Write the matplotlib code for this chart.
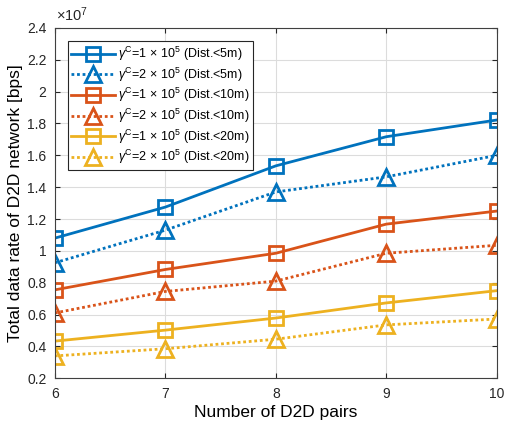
import matplotlib
matplotlib.use("Agg")
import matplotlib.pyplot as plt
from matplotlib.ticker import FuncFormatter

# data (bps)
pairs = [6, 7, 8, 9, 10]
g1_5m = [1.08e7, 1.275e7, 1.534e7, 1.717e7, 1.822e7]
g2_5m = [0.925e7, 1.13e7, 1.37e7, 1.465e7, 1.60e7]
g1_10m = [0.755e7, 0.883e7, 0.985e7, 1.168e7, 1.25e7]
g2_10m = [0.61e7, 0.745e7, 0.81e7, 0.985e7, 1.035e7]
g1_20m = [0.433e7, 0.502e7, 0.578e7, 0.673e7, 0.75e7]
g2_20m = [0.34e7, 0.385e7, 0.445e7, 0.535e7, 0.572e7]

labels = [
    r"$\gamma^{\mathrm{C}}$=1$\,\times\,$10$^{5}$ (Dist.<5m)",
    r"$\gamma^{\mathrm{C}}$=2$\,\times\,$10$^{5}$ (Dist.<5m)",
    r"$\gamma^{\mathrm{C}}$=1$\,\times\,$10$^{5}$ (Dist.<10m)",
    r"$\gamma^{\mathrm{C}}$=2$\,\times\,$10$^{5}$ (Dist.<10m)",
    r"$\gamma^{\mathrm{C}}$=1$\,\times\,$10$^{5}$ (Dist.<20m)",
    r"$\gamma^{\mathrm{C}}$=2$\,\times\,$10$^{5}$ (Dist.<20m)",
]

blue = "#0072BD"
orange = "#D95319"
yellow = "#EDB120"

plt.rcParams["font.family"] = ["Liberation Sans", "DejaVu Sans"]
plt.rcParams["mathtext.fontset"] = "custom"
plt.rcParams["mathtext.rm"] = "Liberation Sans"
plt.rcParams["mathtext.it"] = "Liberation Sans:italic"

fig = plt.figure(figsize=(5.08, 4.24), dpi=100)
ax = fig.add_axes([0.108, 0.108, 0.870, 0.826])

series = [
    (g1_5m, blue, "-", "s", 10),
    (g2_5m, blue, (0, (1, 1)), "^", 12),
    (g1_10m, orange, "-", "s", 10),
    (g2_10m, orange, (0, (1, 1)), "^", 12),
    (g1_20m, yellow, "-", "s", 10),
    (g2_20m, yellow, (0, (1, 1)), "^", 12),
]
for (vals, c, ls, mk, ms), lab in zip(series, labels):
    ax.plot(pairs, vals, color=c, linestyle=ls, linewidth=2, marker=mk,
            markersize=ms, markerfacecolor="none", markeredgewidth=2, label=lab)

ax.set_xlim(6, 10)
ax.set_ylim(0.2e7, 2.4e7)
ax.set_xticks(pairs)
ax.set_yticks([v * 1e6 for v in range(2, 25, 2)])
ax.yaxis.set_major_formatter(FuncFormatter(lambda v, p: "%g" % round(v / 1e7, 1)))
ax.tick_params(direction="in", top=True, right=True, labelsize=10, colors="#262626", pad=6)
ax.grid(True, color="#dcdcdc", linewidth=0.8)
for s in ax.spines.values():
    s.set_color("#404040")
    s.set_linewidth(0.8)

ax.text(0.003, 1.012, r"$\times10^{7}$", transform=ax.transAxes, fontsize=10.5,
        color="#262626", va="bottom", ha="left")

ax.set_xlabel("Number of D2D pairs", fontsize=12.5, labelpad=3)
ax.set_ylabel("Total data rate of D2D network [bps]", fontsize=12.5, labelpad=3)

leg = ax.legend(loc="upper left", bbox_to_anchor=(0.029, 0.963), fontsize=9,
                handlelength=3.5, fancybox=False, framealpha=1, edgecolor="#262626",
                borderpad=0.3, labelspacing=0.2, handletextpad=0.2, borderaxespad=0)
leg.get_frame().set_linewidth(0.8)

fig.savefig("out.png", dpi=100)
